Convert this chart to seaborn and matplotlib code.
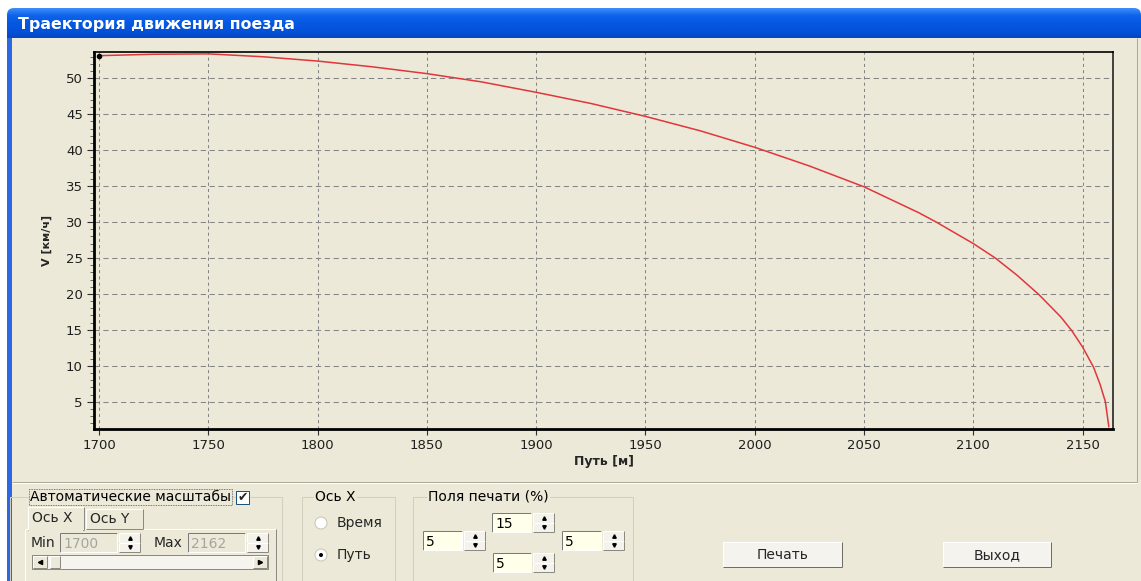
import numpy as np
import pandas as pd
import seaborn as sns
import matplotlib.pyplot as plt
from matplotlib.colors import LinearSegmentedColormap
from matplotlib.patches import Rectangle, Circle, FancyBboxPatch
from matplotlib.ticker import MultipleLocator

# %% Data
path_m = [1700, 1725, 1750, 1775, 1800, 1825, 1850, 1875, 1900, 1925, 1950, 1975,
          2000, 2025, 2050, 2075, 2083, 2100, 2110, 2120, 2130, 2140, 2145, 2150,
          2155, 2158, 2160.4, 2162]
speed_kmh = [53.15, 53.35, 53.4, 53.0, 52.4, 51.6, 50.65, 49.5, 48.05, 46.5, 44.7, 42.7,
             40.4, 37.8, 34.9, 31.3, 30.0, 27.0, 25.0, 22.6, 19.9, 16.8, 14.9, 12.6,
             9.8, 7.4, 5.0, 1.5]
x_ticks = [1700, 1750, 1800, 1850, 1900, 1950, 2000, 2050, 2100, 2150]
y_ticks = [5, 10, 15, 20, 25, 30, 35, 40, 45, 50]

window_title = "Траектория движения поезда"
x_label = "Путь [м]"
y_label = "V [км/ч]"
auto_scale_label = "Автоматические масштабы"
axis_min, axis_max = "1700", "2162"
margins = {"top": "15", "left": "5", "right": "5", "bottom": "5"}

df = pd.DataFrame({"path": path_m, "speed": speed_kmh})

# %% Figure and window chrome
sns.set_theme(style="ticks")
plt.rcParams["font.family"] = ["DejaVu Sans"]

W, H = 1141, 581
BG = "#ECE9D8"
FS = 10
fig = plt.figure(figsize=(W / 100, H / 100), dpi=100, facecolor="white")

ui = fig.add_axes([0, 0, 1, 1], zorder=0)
ui.set_axis_off()

ui.add_patch(Rectangle((7, 30), W - 7, H - 30, fc=BG, ec="none", zorder=0))

# title bar with gradient and rounded top
cmap = LinearSegmentedColormap.from_list(
    "xp", ["#3C8CF6", "#0E62EA", "#0558E2", "#0552DA", "#0446C4"])
grad = np.linspace(0, 1, 40)[:, None]
im = ui.imshow(grad, cmap=cmap, extent=(7, W, 38, 8), aspect="auto", zorder=1)
clip = FancyBboxPatch((7, 8), W - 7, 40, boxstyle="round,pad=0,rounding_size=7",
                      fc="none", ec="none", transform=ui.transData)
ui.add_patch(clip)
im.set_clip_path(clip)
ui.text(18, 24, window_title, color="white", fontsize=11.4, fontweight="bold",
        va="center", ha="left", zorder=3)

# left window border
ui.add_patch(Rectangle((7, 38), 5, H - 38, fc="#2C68E4", ec="none", zorder=1))

PX = 0.72  # one pixel in points


def hline(x0, x1, y, c, lw=1):
    ui.plot([x0, x1], [y, y], color=c, lw=lw * PX, solid_capstyle="butt", zorder=3)


def vline(x, y0, y1, c, lw=1):
    ui.plot([x, x], [y0, y1], color=c, lw=lw * PX, solid_capstyle="butt", zorder=3)


def bevel(x0, y0, x1, y1, tl, br, face=None):
    if face:
        ui.add_patch(Rectangle((x0, y0), x1 - x0, y1 - y0, fc=face, ec="none", zorder=2))
    hline(x0, x1, y0, tl)
    vline(x0, y0, y1, tl)
    hline(x0, x1, y1, br)
    vline(x1, y0, y1, br)


def spinner(x0, y0, x1, y1):
    ym = (y0 + y1) / 2
    for a, b, mk in [(y0, ym, "^"), (ym, y1, "v")]:
        bevel(x0, a, x1, b, "white", "#8C8A80", face="#F3F2EC")
        ui.plot((x0 + x1) / 2, (a + b) / 2, marker=mk, ms=2.5, color="black", zorder=4)


def textbox(x0, y0, x1, y1, txt, face, tc):
    bevel(x0, y0, x1, y1, "#7A7A7A", "white", face=face)
    ui.text(x0 + 3, (y0 + y1) / 2 + 1, txt, fontsize=FS, color=tc, va="center", zorder=4)


def groupbox(x0, y0, x1, y1, title, tx):
    ui.add_patch(Rectangle((x0, y0), x1 - x0, y1 - y0, fc="none", ec="#D0D0BF",
                           lw=PX, zorder=2))
    return ui.text(tx, y0, title, fontsize=FS, color="black", va="center", zorder=4,
                   bbox=dict(fc=BG, ec="none", pad=1))


# chart panel border and separator
vline(1137, 38, 482, "#ACA899")
hline(12, 1137, 482, "#ACA899")
hline(12, 1137, 483, "white")

# group: automatic scales
t = groupbox(10, 497, 282, 590, auto_scale_label, 30)
t.set_bbox(dict(fc=BG, ec="#555555", ls=(0, (1, 1)), lw=0.6, pad=1))
ui.add_patch(Rectangle((236, 491), 13, 13, fc="white", ec="#1C5180", lw=PX, zorder=4))
ui.text(242.5, 497.5, "✔", fontsize=9, ha="center", va="center", zorder=5)

bevel(25, 529, 276, 590, "white", "#8C8A80", face=BG)
bevel(28, 507, 84, 530, "white", "#8C8A80", face=BG)
hline(29, 83, 530, BG, lw=2)
bevel(86, 509, 143, 529, "white", "#8C8A80", face=BG)
ui.text(32, 518, "Ось X", fontsize=FS, va="center", zorder=4)
ui.text(90, 519, "Ось Y", fontsize=FS, va="center", zorder=4)

ui.text(31, 543, "Min", fontsize=FS, va="center", zorder=4)
textbox(60, 533, 117, 552, axis_min, BG, "#A4A4A4")
spinner(119, 533, 140, 552)
ui.text(154, 543, "Max", fontsize=FS, va="center", zorder=4)
textbox(188, 533, 245, 552, axis_max, BG, "#A4A4A4")
spinner(247, 533, 268, 552)

# scrollbar
ui.add_patch(Rectangle((32, 555), 236, 14, fc="#F5F4EF", ec="#8C8A80", lw=PX, zorder=2))
bevel(33, 556, 47, 568, "white", "#8C8A80", face="#ECE9D8")
bevel(50, 556, 60, 568, "white", "#8C8A80", face="#ECE9D8")
bevel(253, 556, 267, 568, "white", "#8C8A80", face="#ECE9D8")
ui.plot(40, 562, marker="<", ms=3, color="black", zorder=4)
ui.plot(260, 562, marker=">", ms=3, color="black", zorder=4)

# group: X axis
groupbox(302, 497, 395, 590, "Ось X", 315)
for cy, lab, on in [(523, "Время", False), (555, "Путь", True)]:
    ui.add_patch(Circle((321, cy), 6, fc="white", ec="#C8C6BC", lw=PX, zorder=3))
    if on:
        ui.add_patch(Circle((321, cy), 2, fc="black", ec="none", zorder=4))
    ui.text(337, cy, lab, fontsize=FS, va="center", zorder=4)

# group: print margins
groupbox(413, 497, 633, 590, "Поля печати (%)", 428)
CREAM = "#FFFFEA"
for (x0, y0, x1, y1), key in [((492, 513, 531, 532), "top"), ((423, 531, 462, 550), "left"),
                              ((562, 531, 601, 550), "right"), ((493, 553, 531, 572), "bottom")]:
    textbox(x0, y0, x1, y1, margins[key], CREAM, "black")
    spinner(x1 + 2, y0, x1 + 23, y1)

# buttons
for x0, x1, lab in [(723, 842, "Печать"), (943, 1051, "Выход")]:
    bevel(x0, 542, x1, 567, "white", "#6F6D66", face="#F4F3EE")
    ui.text((x0 + x1) / 2, 555, lab, fontsize=FS, ha="center", va="center", zorder=4)

ui.set_xlim(0, W)
ui.set_ylim(H, 0)

# %% Chart
ax = fig.add_axes([94 / W, 1 - 429 / H, (1113 - 94) / W, (429 - 52) / H], zorder=2)
ax.set_facecolor(BG)
sns.lineplot(data=df, x="path", y="speed", color="#E0363C", lw=1.1, ax=ax)
ax.scatter(path_m[:1], speed_kmh[:1], s=9, color="black", zorder=5)

ax.set_xlim(1697.7, 2163.9)
ax.set_ylim(1.2, 53.66)
ax.set_xticks(x_ticks)
ax.set_yticks(y_ticks)
ax.yaxis.set_minor_locator(MultipleLocator(1))

ax.xaxis.grid(True, ls=(0, (3, 3)), color="#858585", lw=0.75)
ax.yaxis.grid(True, ls=(0, (5, 3.5)), color="#858585", lw=0.75)

for side, lw, c in [("left", 2.0, "black"), ("bottom", 2.0, "black"),
                    ("top", 1.2, "black"), ("right", 1.4, "#404040")]:
    ax.spines[side].set_linewidth(lw)
    ax.spines[side].set_color(c)

ax.tick_params(axis="both", which="major", length=5, width=0.8, color="#303030",
               labelsize=9.5, labelcolor="#1E1E1E", pad=3)
ax.tick_params(axis="y", which="minor", length=3, width=0.6, color="#505050")
ax.tick_params(axis="x", length=4, pad=3)

ax.set_xlabel(x_label, fontsize=9, fontweight="bold", labelpad=2)
ax.set_ylabel(y_label, fontsize=8, fontweight="bold", labelpad=10)

fig.savefig("out.png", dpi=100, facecolor=fig.get_facecolor())
